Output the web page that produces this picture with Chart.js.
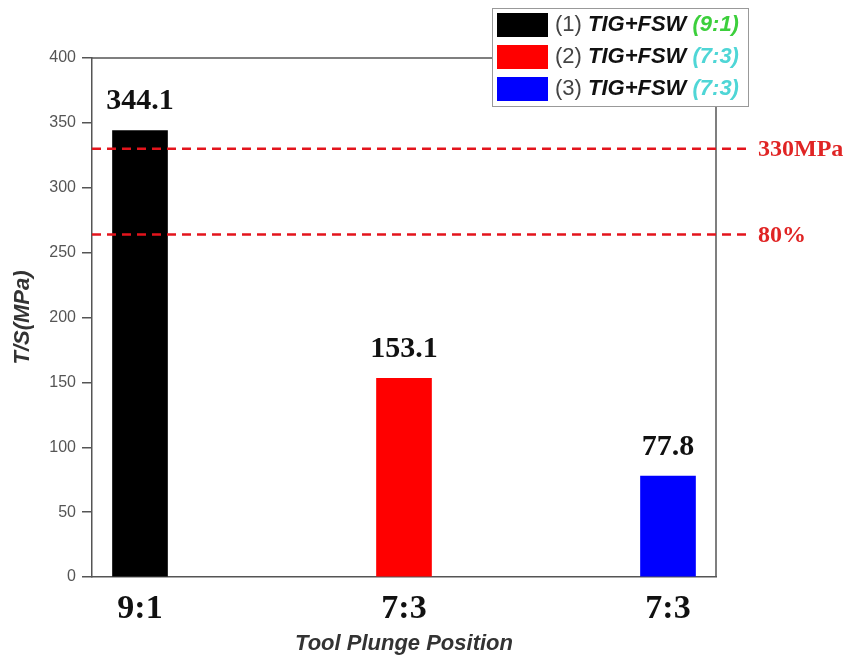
<!DOCTYPE html>
<html>
<head>
<meta charset="utf-8">
<script src="https://cdn.jsdelivr.net/npm/chart.js@4.4.0/dist/chart.umd.min.js"></script>
<style>
  html, body { margin: 0; padding: 0; background: #fff; }
  #wrap { width: 856px; height: 661px; }
</style>
</head>
<body>
<div id="wrap"><canvas id="chartCanvas" width="856" height="661"></canvas></div>
<script>
// tensile strength per tool plunge position
const positions = ['9:1', '7:3', '7:3'];
const strength = [344.1, 153.1, 77.8];
const barColors = ['#000000', '#ff0000', '#0000ff'];
const yTicks = [0, 50, 100, 150, 200, 250, 300, 350, 400];

// reference lines: base metal strength and 80% of it
const refValues = [330, 264];
const refLabels = ['330MPa', '80%'];

// legend rows: number, process, ratio, ratio colour
const legendNums = ['(1)', '(2)', '(3)'];
const legendNames = ['TIG+FSW', 'TIG+FSW', 'TIG+FSW'];
const legendRatios = ['(9:1)', '(7:3)', '(7:3)'];
const legendRatioColors = ['#3ccf3c', '#4fd6d6', '#4fd6d6'];

const serif = '"Liberation Serif", "Times New Roman", serif';
const sans = '"Liberation Sans", Arial, sans-serif';

const extras = {
    id: 'extras',
    afterDatasetsDraw(chart) {
        const { ctx, chartArea: a, scales } = chart;
        ctx.save();

        // value labels over bars
        ctx.font = 'bold 30px ' + serif;
        ctx.fillStyle = '#111';
        ctx.textAlign = 'center';
        ctx.textBaseline = 'middle';
        strength.forEach((v, i) => {
            ctx.fillText(v.toFixed(1), scales.x.getPixelForValue(i), scales.y.getPixelForValue(v) - 29);
        });

        // frame top and right
        ctx.strokeStyle = '#555';
        ctx.lineWidth = 1.5;
        ctx.beginPath();
        ctx.moveTo(a.left, a.top);
        ctx.lineTo(a.right, a.top);
        ctx.lineTo(a.right, a.bottom);
        ctx.stroke();

        // dashed reference lines
        ctx.strokeStyle = '#e3141c';
        ctx.lineWidth = 2.5;
        ctx.setLineDash([9, 6]);
        refValues.forEach((v) => {
            const y = scales.y.getPixelForValue(v);
            ctx.beginPath();
            ctx.moveTo(a.left, y);
            ctx.lineTo(a.right + 36, y);
            ctx.stroke();
        });
        ctx.setLineDash([]);
        ctx.font = 'bold 24px ' + serif;
        ctx.fillStyle = '#e02424';
        ctx.textAlign = 'left';
        refValues.forEach((v, i) => {
            ctx.fillText(refLabels[i], a.right + 42, scales.y.getPixelForValue(v) + 1);
        });

        // legend box
        ctx.fillStyle = '#fff';
        ctx.fillRect(492, 8, 256, 98);
        ctx.strokeStyle = '#999';
        ctx.lineWidth = 1;
        ctx.strokeRect(492.5, 8.5, 256, 98);
        legendNums.forEach((n, i) => {
            const top = 13 + i * 32;
            const mid = top + 12;
            ctx.fillStyle = barColors[i];
            ctx.fillRect(497, top, 51, 24);
            let x = 555;
            ctx.textAlign = 'left';
            ctx.textBaseline = 'middle';
            ctx.font = '22px ' + sans;
            ctx.fillStyle = '#444';
            ctx.fillText(n + ' ', x, mid);
            x += ctx.measureText(n + ' ').width;
            ctx.font = 'italic bold 22px ' + sans;
            ctx.fillStyle = '#111';
            ctx.fillText(legendNames[i] + ' ', x, mid);
            x += ctx.measureText(legendNames[i] + ' ').width;
            ctx.fillStyle = legendRatioColors[i];
            ctx.fillText(legendRatios[i], x, mid);
        });

        ctx.restore();
    }
};

const ctx = document.getElementById('chartCanvas').getContext('2d');
new Chart(ctx, {
    type: 'bar',
    data: {
        datasets: [{
            data: strength.map((v, i) => ({ x: i, y: v })),
            backgroundColor: barColors,
            borderWidth: 0,
            barThickness: 55
        }]
    },
    options: {
        responsive: false,
        animation: false,
        layout: { padding: { top: 58, right: 140, left: 0, bottom: 0 } },
        plugins: {
            legend: { display: false },
            tooltip: { enabled: false }
        },
        scales: {
            x: {
                type: 'linear',
                offset: false,
                min: -48 / 264,
                max: 2 + 48 / 264,
                afterBuildTicks: (axis) => { axis.ticks = [0, 1, 2].map(v => ({ value: v })); },
                afterFit: (axis) => { axis.height = 84; },
                grid: { display: false, drawTicks: false, offset: false },
                border: { color: '#555', width: 1.5 },
                ticks: {
                    padding: 12,
                    color: '#111',
                    font: { family: serif, size: 34, weight: 'bold' },
                    callback: (v) => positions[v]
                },
                title: {
                    display: true,
                    text: 'Tool Plunge Position',
                    color: '#333',
                    font: { family: sans, size: 22, weight: 'bold', style: 'italic' },
                    padding: { top: 0, bottom: 4 }
                }
            },
            y: {
                min: 0,
                max: 400,
                afterBuildTicks: (axis) => { axis.ticks = yTicks.map(v => ({ value: v })); },
                afterFit: (axis) => { axis.width = 92; },
                grid: { drawOnChartArea: false, drawTicks: true, tickLength: 10, color: '#555', lineWidth: 1.5 },
                border: { color: '#555', width: 1.5 },
                ticks: {
                    padding: 6,
                    color: '#555',
                    font: { family: sans, size: 16 }
                },
                title: {
                    display: true,
                    text: 'T/S(MPa)',
                    color: '#333',
                    font: { family: sans, size: 22, weight: 'bold', style: 'italic' },
                    padding: { top: 10, bottom: 0 }
                }
            }
        }
    },
    plugins: [extras]
});
</script>
</body>
</html>
